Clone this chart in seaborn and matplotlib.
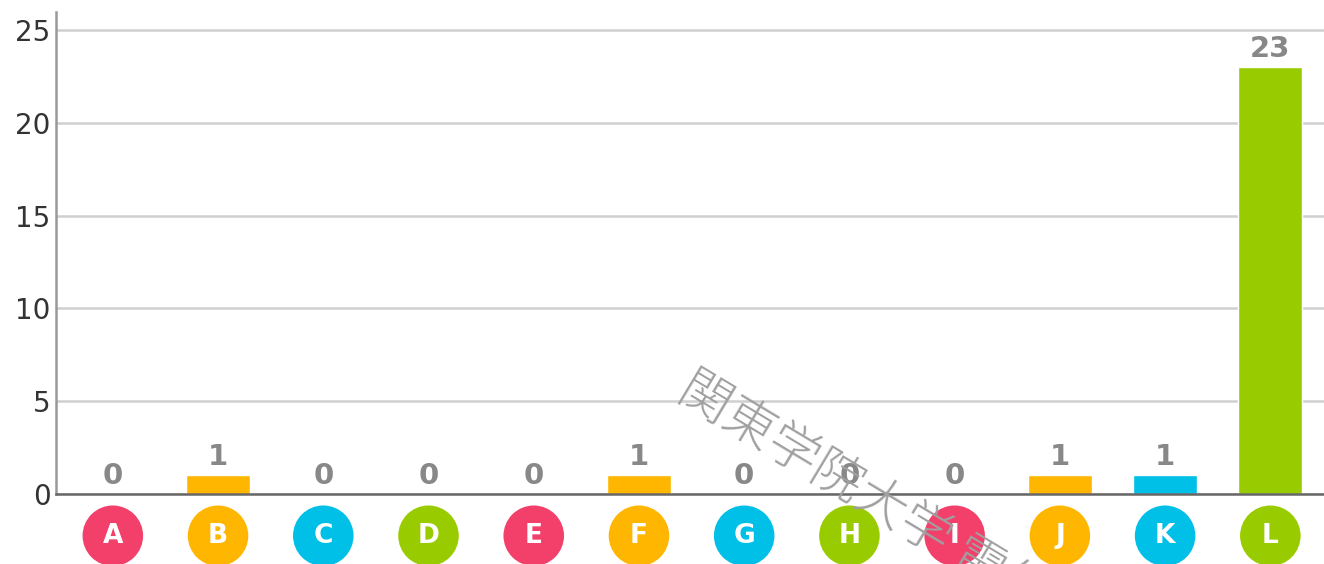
import matplotlib
matplotlib.use("Agg")
import matplotlib.pyplot as plt
import seaborn as sns
import pandas as pd

# chart data
labels = ['A', 'B', 'C', 'D', 'E', 'F', 'G', 'H', 'I', 'J', 'K', 'L']
counts = [0, 1, 0, 0, 0, 1, 0, 0, 0, 1, 1, 23]
colors = ['#F2406A', '#FFB600', '#00C0E8', '#99CC00'] * 3
yticks = [0, 5, 10, 15, 20, 25]
watermark = '関東学院大学 電気'

df = pd.DataFrame({'label': labels, 'count': counts})

sns.set_style('white')
plt.rcParams['font.family'] = ['DejaVu Sans', 'Noto Sans CJK JP']

fig = plt.figure(figsize=(13.24, 5.64), dpi=100)
ax = fig.add_axes([56 / 1324, 1 - 494 / 564, 1 - 56 / 1324, (494 - 12) / 564])

sns.barplot(data=df, x='label', y='count', hue='label', palette=colors,
            legend=False, width=0.61, ax=ax, saturation=1, zorder=3)

# value labels above bars
for c in ax.containers:
    ax.bar_label(c, padding=3, fontsize=21, fontweight='bold', color='#888888')

ax.set_ylim(0, 25.97)
ax.set_xlim(-0.54, 11.51)
ax.set_yticks(yticks)
ax.set_xticks([])
ax.set_xlabel('')
ax.set_ylabel('')
ax.tick_params(axis='y', labelsize=20, colors='#333333', length=0, pad=4)
ax.yaxis.grid(True, color='#d0d0d0', linewidth=1.8, zorder=0)
ax.set_axisbelow(True)

for s in ['top', 'right']:
    ax.spines[s].set_visible(False)
ax.spines['left'].set_color('#999999')
ax.spines['left'].set_linewidth(1.8)
ax.spines['bottom'].set_color('#666666')
ax.spines['bottom'].set_linewidth(1.8)
ax.spines['bottom'].set_zorder(4)

# category badges below the axis
ypos = -2.25
ax.scatter(range(len(labels)), [ypos] * len(labels), s=1900, c=colors,
           clip_on=False, zorder=5, linewidths=0)
for i, lab in enumerate(labels):
    ax.text(i, ypos, lab, ha='center', va='center', color='white',
            fontsize=19, fontweight='bold', clip_on=False, zorder=6)

# watermark
fig.text(696 / 1324, 1 - 362 / 564, watermark, rotation=-31, rotation_mode='anchor',
         ha='left', va='top', fontsize=37, color='#a0a0a0', fontweight='light',
         family=['Noto Sans CJK JP'], zorder=10)

fig.savefig('out.png', dpi=100)
